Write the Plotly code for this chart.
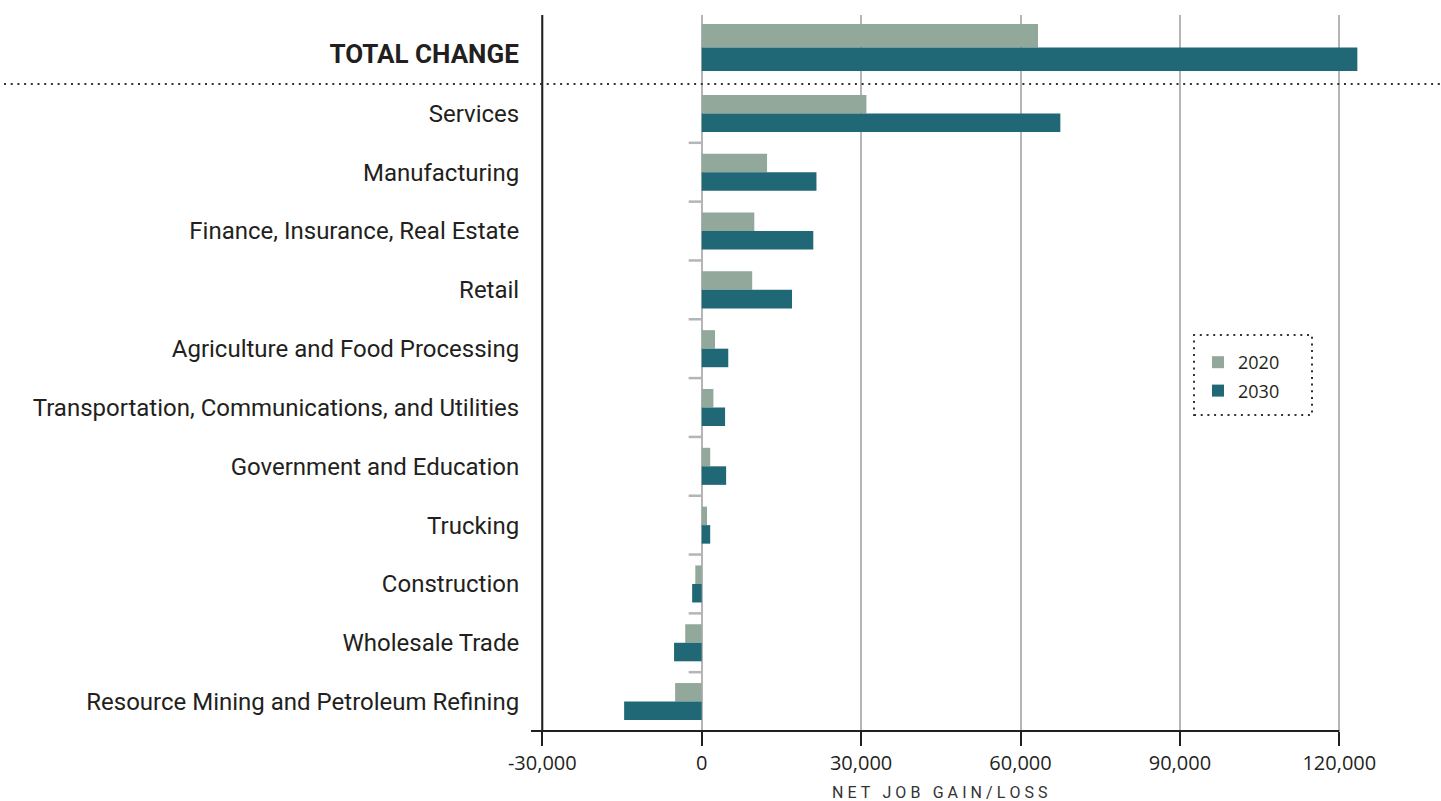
import plotly.graph_objects as go

# ---------------- data ----------------
total_label = ["TOTAL CHANGE"]
total_2020 = [63300]
total_2030 = [123400]

sectors = [
    "Services",
    "Manufacturing",
    "Finance, Insurance, Real Estate",
    "Retail",
    "Agriculture and Food Processing",
    "Transportation, Communications, and Utilities",
    "Government and Education",
    "Trucking",
    "Construction",
    "Wholesale Trade",
    "Resource Mining and Petroleum Refining",
]
vals_2020 = [31000, 12300, 9900, 9500, 2500, 2200, 1600, 1000, -1200, -3100, -5000]
vals_2030 = [67500, 21600, 21000, 17000, 5000, 4400, 4600, 1600, -1800, -5200, -14600]

x_tickvals = [-30000, 0, 30000, 60000, 90000, 120000]
x_ticktext = ["-30,000", "0", "30,000", "60,000", "90,000", "120,000"]
series_names = ["2020", "2030"]

# ---------------- style ----------------
C2020 = "#91a89b"
C2030 = "#206876"
INK = "#231f20"
GRID = "#b5b5b7"
LABEL_FONT = "Roboto"
NUM_FONT = "Open Sans"

W, H = 1441, 801
ML, MR, MT, MB = 531, 0, 15, 70
PW, PH = W - ML - MR, H - MT - MB

def px_x(p):
    return (p - ML) / PW

def px_y(p):
    return (H - MB - p) / PH

split = px_y(84)
X_RANGE = [-32127, 139141]

fig = go.Figure()

# top subplot: total
fig.add_trace(go.Bar(y=total_label, x=total_2020, orientation="h", name=series_names[0],
                     marker=dict(color=C2020, line=dict(width=0)), xaxis="x", yaxis="y",
                     showlegend=False, legendgroup="a"))
fig.add_trace(go.Bar(y=total_label, x=total_2030, orientation="h", name=series_names[1],
                     marker=dict(color=C2030, line=dict(width=0)), xaxis="x", yaxis="y",
                     showlegend=False, legendgroup="b"))
# bottom subplot: sectors
fig.add_trace(go.Bar(y=sectors, x=vals_2020, orientation="h", name=series_names[0],
                     marker=dict(color=C2020, line=dict(width=0)), xaxis="x", yaxis="y2",
                     legendgroup="a"))
fig.add_trace(go.Bar(y=sectors, x=vals_2030, orientation="h", name=series_names[1],
                     marker=dict(color=C2030, line=dict(width=0)), xaxis="x", yaxis="y2",
                     legendgroup="b"))

shapes = []
# category boundary ticks on the zero line
for i in range(len(sectors) - 1):
    shapes.append(dict(type="line", xref="x", yref="y2", x0=-2450, x1=0,
                       y0=i + 0.5, y1=i + 0.5, line=dict(color=GRID, width=2.5), layer="above"))
# left axis line at -30,000
shapes.append(dict(type="line", xref="x", yref="paper", x0=-30000, x1=-30000, y0=0, y1=1,
                   line=dict(color=INK, width=2)))
# bottom axis line
shapes.append(dict(type="line", xref="x", yref="paper", x0=X_RANGE[0], x1=120000, y0=0, y1=0,
                   line=dict(color=INK, width=2)))
# dotted separator
shapes.append(dict(type="line", xref="paper", yref="paper", x0=px_x(4), x1=px_x(1441),
                   y0=split, y1=split, line=dict(color="#333333", width=2, dash="2px,4.7px")))
# dotted legend box
shapes.append(dict(type="rect", xref="paper", yref="paper", x0=px_x(1194), x1=px_x(1312),
                   y0=px_y(415), y1=px_y(335), line=dict(color="#333333", width=2, dash="2px,4.7px")))

def spaced(word):
    return "\u2005".join(word)

fig.update_layout(
    width=W, height=H,
    margin=dict(l=ML, r=MR, t=MT, b=MB, pad=0),
    paper_bgcolor="white", plot_bgcolor="white",
    barmode="group", bargap=0.37, bargroupgap=0,
    showlegend=True,
    legend=dict(x=px_x(1198), xanchor="left", y=px_y(344), yanchor="top",
                bgcolor="rgba(0,0,0,0)", borderwidth=0, traceorder="grouped",
                tracegroupgap=2, font=dict(family=NUM_FONT, size=18, color=INK)),
    xaxis=dict(anchor="y2", range=X_RANGE, tickmode="array", tickvals=x_tickvals,
               ticktext=x_ticktext, showgrid=True, gridcolor=GRID, gridwidth=2,
               zeroline=False, showline=False, ticks="outside", ticklen=14, tickwidth=2,
               tickcolor=INK, tickfont=dict(family=NUM_FONT, size=20, color=INK)),
    yaxis=dict(domain=[split, 1], range=[0.489, -0.436], type="category",
               showgrid=False, zeroline=False, showline=False,
               ticks="outside", ticklen=6, tickcolor="rgba(0,0,0,0)", ticklabelshift=-6,
               tickfont=dict(family=LABEL_FONT, size=26, color=INK, weight="bold")),
    yaxis2=dict(domain=[0, split], range=[len(sectors) - 0.5, -0.5], type="category",
                categoryorder="array", categoryarray=sectors,
                showgrid=False, zeroline=False, showline=False,
                ticks="outside", ticklen=6, tickcolor="rgba(0,0,0,0)",
                tickfont=dict(family=LABEL_FONT, size=24, color=INK)),
    shapes=shapes,
    annotations=[dict(xref="paper", yref="paper", x=px_x(940), y=px_y(792),
                      xanchor="center", yanchor="middle", showarrow=False,
                      text=spaced("NET") + "\u2002\u2005" + spaced("JOB") + "\u2002\u2005"
                           + spaced("GAIN/LOSS"),
                      font=dict(family=LABEL_FONT, size=16, color="#333333"))],
)

fig.write_html("out.html")
